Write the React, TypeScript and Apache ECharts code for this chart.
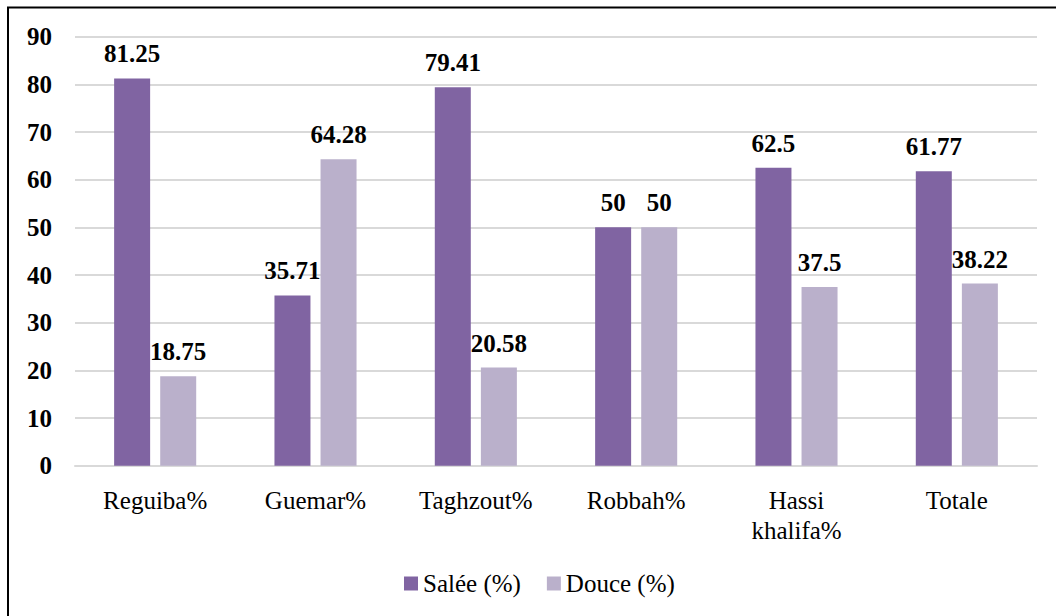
import React, { useEffect, useRef } from "react";
import * as echarts from "echarts";

const categories = ["Reguiba%", "Guemar%", "Taghzout%", "Robbah%", "Hassi\nkhalifa%", "Totale"];
const saleeValues = [81.25, 35.71, 79.41, 50, 62.5, 61.77];
const douceValues = [18.75, 64.28, 20.58, 50, 37.5, 38.22];
const seriesNames = ["Salée (%)", "Douce (%)"];

const FONT = "Times New Roman, Times, Liberation Serif, Tinos, Nimbus Roman, DejaVu Serif, serif";

export default function App() {
  const ref = useRef<HTMLDivElement>(null);
  useEffect(() => {
    if (!ref.current) return;
    const chart = echarts.init(ref.current, null, { renderer: "svg" });
    const label = {
      show: true,
      position: "top",
      distance: 12,
      color: "#000",
      fontFamily: FONT,
      fontWeight: "bold",
      fontSize: 25,
    };
    chart.setOption({
      animation: false,
      backgroundColor: "#fff",
      textStyle: { fontFamily: FONT },
      graphic: [
        {
          type: "rect",
          silent: true,
          shape: { x: 8, y: 7.5, width: 1200, height: 800 },
          style: { fill: "none", stroke: "#000", lineWidth: 2 },
        },
      ],
      grid: { left: 75, right: 19, top: 36.7, bottom: 150.3, containLabel: false },
      legend: {
        left: 399,
        top: 566,
        itemWidth: 14,
        itemHeight: 14,
        itemGap: 26,
        icon: "rect",
        textStyle: { fontFamily: FONT, fontSize: 25, color: "#000" },
        data: seriesNames,
      },
      xAxis: {
        type: "category",
        data: categories,
        axisLine: { lineStyle: { color: "#d9d9d9", width: 2 } },
        axisTick: { show: false },
        axisLabel: {
          color: "#000",
          fontFamily: FONT,
          fontSize: 25,
          lineHeight: 30,
          margin: 20,
        },
      },
      yAxis: {
        type: "value",
        min: 0,
        max: 90,
        interval: 10,
        axisLine: { show: false },
        axisTick: { show: false },
        splitLine: { lineStyle: { color: "#d9d9d9", width: 2 } },
        axisLabel: {
          color: "#000",
          fontFamily: FONT,
          fontSize: 25,
          fontWeight: "bold",
          margin: 23,
        },
      },
      series: [
        {
          name: seriesNames[0],
          type: "bar",
          data: saleeValues,
          barWidth: 36,
          barGap: "28%",
          itemStyle: { color: "#8064a2" },
          label,
        },
        {
          name: seriesNames[1],
          type: "bar",
          data: douceValues,
          barWidth: 36,
          barGap: "28%",
          itemStyle: { color: "#bab0cb" },
          label,
        },
      ],
    });
    return () => chart.dispose();
  }, []);
  return (
    <div
      ref={ref}
      style={{ position: "fixed", left: 0, top: 0, width: 1056, height: 616 }}
    />
  );
}
